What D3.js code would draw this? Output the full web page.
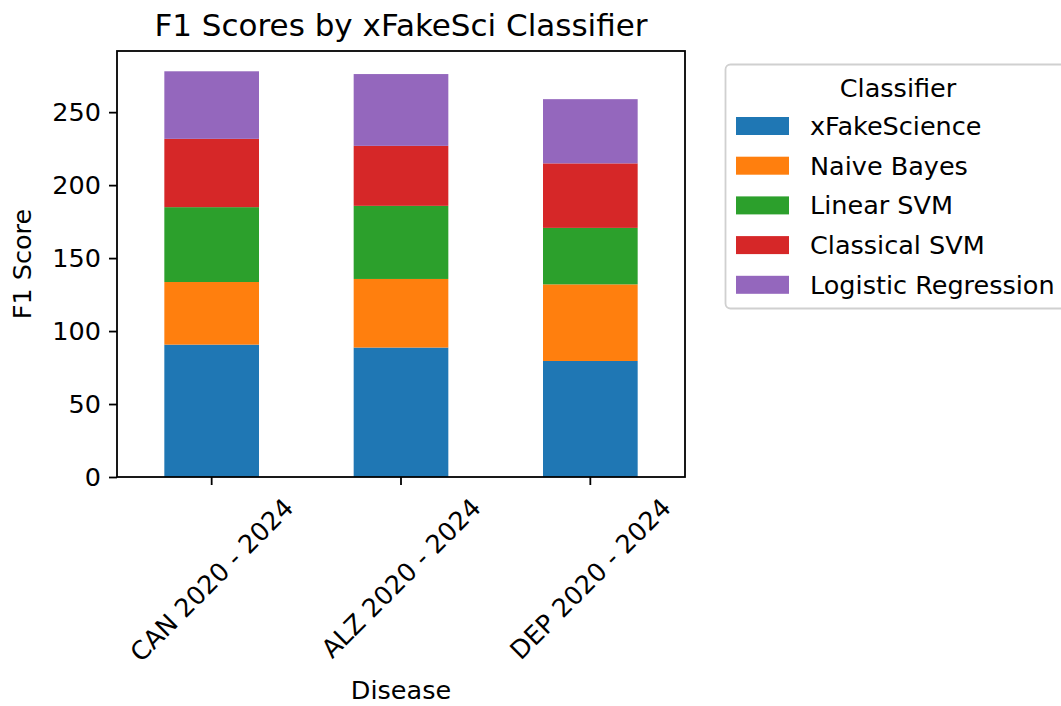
<!DOCTYPE html>
<html>
<head>
<meta charset="utf-8">
<script src="https://cdn.jsdelivr.net/npm/d3@7"></script>
<style>
body { margin: 0; background: #fff; }
text { font-family: "DejaVu Sans", sans-serif; fill: #000; }
</style>
</head>
<body>
<svg id="chart" width="1061" height="706"></svg>
<script>
// data
var diseases = ['CAN 2020 - 2024', 'ALZ 2020 - 2024', 'DEP 2020 - 2024'];
var classifiers = ['xFakeScience', 'Naive Bayes', 'Linear SVM', 'Classical SVM', 'Logistic Regression'];
var xFakeScience = [90.7, 88.7, 79.5];
var naiveBayes = [42.9, 47.0, 52.5];
var linearSVM = [51.3, 50.1, 38.7];
var classicalSVM = [46.8, 41.1, 44.2];
var logisticRegression = [46.3, 49.2, 44.0];
var colors = ['#1f77b4', '#ff7f0e', '#2ca02c', '#d62728', '#9467bd'];

var series = [xFakeScience, naiveBayes, linearSVM, classicalSVM, logisticRegression];

var _left = 117, _right = 685, _top = 51, _bottom = 477;
var _fs = 25.5;

var svg = d3.select('#chart');

var rows = diseases.map(function(d, i){
    var r = { disease: d };
    classifiers.forEach(function(c, j){ r[c] = series[j][i]; });
    return r;
});

var stack = d3.stack().keys(classifiers)(rows);
var maxTotal = d3.max(rows, function(r){ return d3.sum(classifiers, function(c){ return r[c]; }); });

var x = d3.scaleBand().domain(diseases).range([_left, _right]).paddingInner(0.5).paddingOuter(0.25);
var y = d3.scaleLinear().domain([0, maxTotal * 1.05]).range([_bottom, _top]);

// bars
svg.append('g').selectAll('g').data(stack).enter().append('g')
    .attr('fill', function(d, i){ return colors[i]; })
    .selectAll('rect').data(function(d){ return d; }).enter().append('rect')
    .attr('x', function(d){ return x(d.data.disease); })
    .attr('width', x.bandwidth())
    .attr('y', function(d){ return y(d[1]); })
    .attr('height', function(d){ return y(d[0]) - y(d[1]); });

// y axis
var yAxis = svg.append('g').attr('transform', 'translate(' + _left + ',0)')
    .call(d3.axisLeft(y).tickValues([0, 50, 100, 150, 200, 250]).tickSize(8).tickPadding(8));
yAxis.select('.domain').remove();
yAxis.selectAll('line').attr('stroke', '#000').attr('stroke-width', 1.8);
yAxis.selectAll('text').style('font-size', _fs + 'px').attr('font-family', 'DejaVu Sans');

// x axis ticks
var xAxis = svg.append('g').attr('transform', 'translate(0,' + _bottom + ')')
    .call(d3.axisBottom(x).tickSize(8).tickFormat(''));
xAxis.select('.domain').remove();
xAxis.selectAll('line').attr('stroke', '#000').attr('stroke-width', 1.8);

// rotated tick labels, centered under each tick
diseases.forEach(function(d){
    var t = svg.append('text').text(d).style('font-size', _fs + 'px')
        .attr('text-anchor', 'middle').attr('dominant-baseline', 'central');
    var L = t.node().getComputedTextLength();
    var H = _fs * 1.1;
    var half = (L + H) / Math.SQRT2 / 2;
    var cx = x(d) + x.bandwidth() / 2, cy = _bottom + 16 + half;
    t.attr('x', cx).attr('y', cy).attr('transform', 'rotate(-45,' + cx + ',' + cy + ')');
});

// frame
svg.append('rect').attr('x', _left).attr('y', _top)
    .attr('width', _right - _left).attr('height', _bottom - _top)
    .attr('fill', 'none').attr('stroke', '#000').attr('stroke-width', 1.8);

// titles
svg.append('text').attr('x', (_left + _right) / 2).attr('y', 36)
    .attr('text-anchor', 'middle').style('font-size', '31px')
    .text('F1 Scores by xFakeSci Classifier');
svg.append('text').attr('x', (_left + _right) / 2).attr('y', 699)
    .attr('text-anchor', 'middle').style('font-size', _fs + 'px').text('Disease');
svg.append('text').attr('transform', 'translate(31,' + ((_top + _bottom) / 2) + ') rotate(-90)')
    .attr('text-anchor', 'middle').style('font-size', _fs + 'px').text('F1 Score');

// legend
var lg = svg.append('g').attr('transform', 'translate(725,64)');
lg.append('rect').attr('x', 0.5).attr('y', 0.5).attr('width', 360).attr('height', 244)
    .attr('rx', 5).attr('fill', '#fff').attr('stroke', '#d0d0d0').attr('stroke-width', 1.8);
lg.append('text').attr('x', 173).attr('y', 33).attr('text-anchor', 'middle')
    .style('font-size', _fs + 'px').text('Classifier');
var items = lg.selectAll('.item').data(classifiers).enter().append('g')
    .attr('class', 'item')
    .attr('transform', function(d, i){ return 'translate(0,' + (53 + i * 39.7) + ')'; });
items.append('rect').attr('x', 11).attr('y', 0).attr('width', 53).attr('height', 18)
    .attr('fill', function(d, i){ return colors[i]; });
items.append('text').attr('x', 85).attr('y', 18).style('font-size', _fs + 'px')
    .text(function(d){ return d; });
</script>
</body>
</html>
